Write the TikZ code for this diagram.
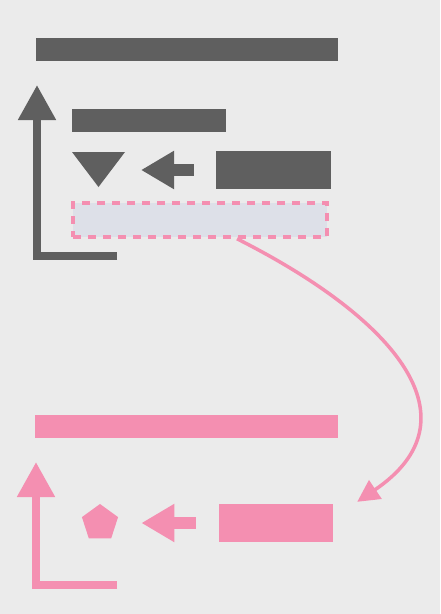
\documentclass[tikz,border=0pt]{standalone}
\usepackage{xcolor}
\usepackage{tikz}
\usetikzlibrary{arrows.meta,positioning,shapes.geometric}
\definecolor{slate}{HTML}{5F5F5F}
\definecolor{rose}{HTML}{F48FB1}
\definecolor{paper}{HTML}{EBEBEB}
\definecolor{mist}{HTML}{DDE0E8}

\begin{document}
\begin{tikzpicture}[x=1pt, y=-1pt,
  bar/.style={rectangle, inner sep=0pt, minimum height=23pt},
  blk/.style={rectangle, inner sep=0pt, minimum height=38pt},
  uparr/.style={line width=8pt, line join=miter, -{Triangle[length=35pt,width=36pt]}},
  leftarr/.style={line width=12pt, -{Triangle[length=33pt,width=36pt]}}]
\useasboundingbox (0,0) rectangle (440,614);
\fill[paper] (0,0) rectangle (440,614);
% upper group
\node[bar, fill=slate, minimum width=302pt] (gtop) at (187,49.5) {};
\node[bar, fill=slate, minimum width=154pt] (gsub) at (149,120.5) {};
\node[blk, fill=slate, minimum width=115pt] (gbox) at (273.5,170) {};
\fill[slate] (72,152) -- (125,152) -- (98.5,187) -- cycle;
\coordinate (gtip) at (141,170);
\draw[slate, leftarr, shorten <=22pt] (gbox.west) -- (gtip);
\node[rectangle, inner sep=0pt, minimum width=254pt, minimum height=34pt,
  fill=mist, draw=rose, line width=3.5pt, dash pattern=on 8pt off 7pt] (sel) at (200,220) {};
\coordinate (gend) at (117,255.5);
\coordinate (gup) at (37,85);
\draw[slate, uparr] (gend) -| (gup);
% lower group
\node[bar, fill=rose, minimum width=303pt] (ptop) at (186.5,426.5) {};
\node[regular polygon, regular polygon sides=5, inner sep=0pt, minimum size=38pt, fill=rose] (ppent) at (100,523) {};
\node[blk, fill=rose, minimum width=114pt] (pbox) at (276,523) {};
\draw[rose, leftarr, shorten <=23pt, shorten >=25pt] (pbox.west) -- (ppent.east);
\coordinate (pend) at (117,585);
\coordinate (pup) at (36,462);
\draw[rose, uparr] (pend) -| (pup);
% link
\draw[rose, line width=3.5pt, -{Triangle[length=22pt,width=22pt]}]
  ([xshift=37pt]sel.south) .. controls (398,320) and (478,420) .. ([xshift=24pt,yshift=2pt]pbox.north east);
\end{tikzpicture}
\end{document}
